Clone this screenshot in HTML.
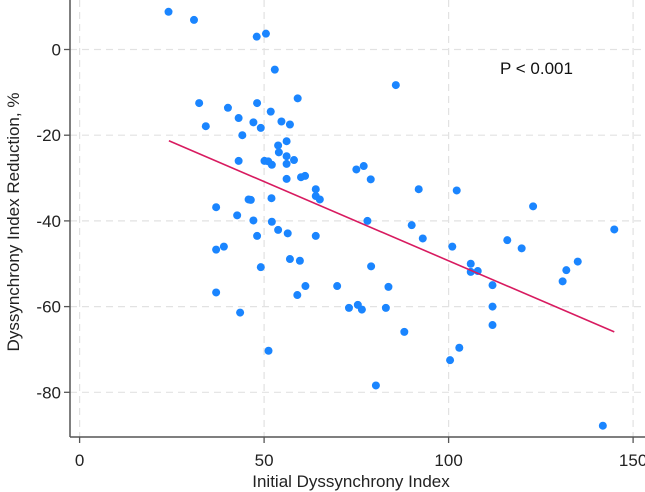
<!DOCTYPE html>
<html><head><meta charset="utf-8">
<style>
html,body{margin:0;padding:0;background:#fff;}
svg{display:block;font-family:"Liberation Sans",Arial,sans-serif;}
</style></head>
<body>
<svg id="chart" width="645" height="492" viewBox="0 0 645 492" xmlns="http://www.w3.org/2000/svg">
<g id="grid"></g>
<g id="axes"></g>
<g id="points"></g>
<g id="fit"></g>
<text x="500" y="74" font-size="17" fill="#111">P &lt; 0.001</text>
<text x="351" y="487" font-size="17" fill="#222" text-anchor="middle">Initial Dyssynchrony Index</text>
<text transform="translate(19,222) rotate(-90)" font-size="17" fill="#222" text-anchor="middle">Dyssynchrony Index Reduction, %</text>
</svg>
<script>
const xTicks = [0, 50, 100, 150];
const yTicks = [0, -20, -40, -60, -80];
const xValues = [24.1,31.0,48.0,50.5,52.9,59.1,32.4,40.2,48.1,51.8,43.1,47.1,49.1,54.7,57.0,34.2,44.1,56.1,53.8,54.0,56.1,43.1,50.1,51.1,52.1,56.1,58.1,56.1,60.0,61.1,64.0,64.0,65.1,45.8,46.4,52.0,37.0,42.7,47.1,52.1,53.8,56.4,64.0,48.1,37.0,39.1,57.0,59.7,49.1,61.2,59.0,69.8,37.0,43.5,51.2,75.0,77.0,78.9,78.0,79.0,73.0,75.4,76.5,83.0,83.7,88.0,80.3,91.9,90.0,93.0,102.2,101.0,106.0,106.0,107.9,111.9,111.9,111.9,100.4,102.9,115.9,119.8,122.9,130.9,131.9,135.0,144.9,141.8,85.7];
const yValues = [8.8,6.9,3.0,3.7,-4.7,-11.4,-12.5,-13.6,-12.5,-14.5,-16.0,-17.0,-18.3,-16.8,-17.5,-17.9,-20.0,-21.4,-22.4,-24.0,-24.9,-26.0,-26.0,-26.1,-26.9,-26.7,-25.8,-30.2,-29.8,-29.5,-32.6,-34.2,-35.0,-35.0,-35.1,-34.7,-36.8,-38.7,-39.9,-40.2,-42.1,-42.9,-43.5,-43.5,-46.7,-46.0,-48.9,-49.3,-50.8,-55.2,-57.3,-55.2,-56.7,-61.4,-70.3,-28.0,-27.2,-30.3,-40.0,-50.6,-60.3,-59.6,-60.7,-60.3,-55.4,-65.9,-78.4,-32.6,-41.0,-44.1,-32.9,-46.0,-50.0,-51.9,-51.7,-55.0,-60.0,-64.3,-72.5,-69.6,-44.5,-46.4,-36.6,-54.1,-51.5,-49.5,-42.0,-87.8,-8.3];
const fitX = [24.2, 144.9];
const fitY = [-21.3, -65.9];

const NS = "http://www.w3.org/2000/svg";
const X0 = 79.6, XS = 3.69, Y0 = 49.5, YS = 4.285;
const AXL = 70, AXB = 437;
function sx(v){ return X0 + v*XS; }
function sy(v){ return Y0 - v*YS; }
function mk(tag, attrs, parent){
  const e = document.createElementNS(NS, tag);
  for (const k in attrs) e.setAttribute(k, attrs[k]);
  parent.appendChild(e);
  return e;
}
const grid = document.getElementById('grid');
const axes = document.getElementById('axes');
const pts = document.getElementById('points');
const fit = document.getElementById('fit');

xTicks.forEach(t => {
  const g = mk('line', {x1:sx(t), x2:sx(t), y1:0, y2:AXB, stroke:'#e2e2e2', 'stroke-width':1.2, 'stroke-dasharray':'7 5'}, grid);
  
  
  const tk = mk('line', {x1:sx(t), x2:sx(t), y1:AXB, y2:AXB+6, stroke:'#555', 'stroke-width':1.3}, axes);
  
  
  const lb = mk('text', {x:sx(t), y:AXB+29, 'font-size':17, fill:'#222', 'text-anchor':'middle'}, axes);
  lb.textContent = t;
  
  
});
yTicks.forEach(t => {
  const g = mk('line', {x1:AXL, x2:645, y1:sy(t), y2:sy(t), stroke:'#e2e2e2', 'stroke-width':1.2, 'stroke-dasharray':'7 5'}, grid);
  
  
  const tk = mk('line', {x1:AXL-6, x2:AXL, y1:sy(t), y2:sy(t), stroke:'#555', 'stroke-width':1.3}, axes);
  
  
  const lb = mk('text', {x:AXL-9, y:sy(t)+6, 'font-size':17, fill:'#222', 'text-anchor':'end'}, axes);
  lb.textContent = t;
  
  
});
const ya = mk('line', {x1:AXL, x2:AXL, y1:0, y2:AXB, stroke:'#555', 'stroke-width':1.5}, axes);


const xa = mk('line', {x1:AXL, x2:645, y1:AXB, y2:AXB, stroke:'#555', 'stroke-width':1.5}, axes);



xValues.forEach((xv, i) => {
  const c = mk('circle', {cx:sx(xv), cy:sy(yValues[i]), r:4, fill:'#1a85ff'}, pts);
  
  
});
const ln = mk('line', {x1:sx(fitX[0]), y1:sy(fitY[0]), x2:sx(fitX[1]), y2:sy(fitY[1]), stroke:'#d81b60', 'stroke-width':1.6}, fit);


</script>
</body></html>
